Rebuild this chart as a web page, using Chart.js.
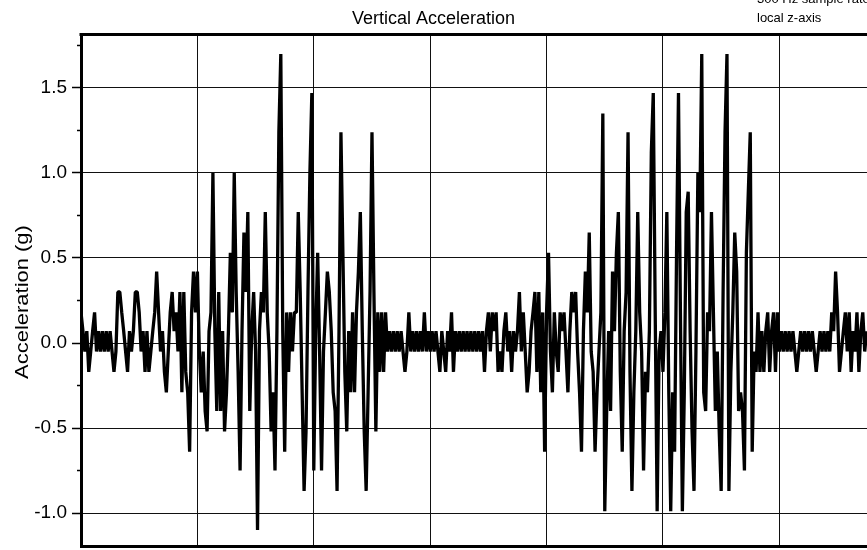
<!DOCTYPE html>
<html><head><meta charset="utf-8">
<script src="https://cdn.jsdelivr.net/npm/chart.js@4"></script>
<style>html,body{margin:0;padding:0;background:#fff;}#wrap{width:867px;height:550px;}</style>
</head><body><div id="wrap"><canvas id="c" width="867" height="550"></canvas></div>
<script>
const chartTitle = 'Vertical Acceleration';
const yAxisTitle = 'Acceleration (g)';
const noteLines = ['300 Hz sample rate', 'local z-axis'];
const sampleStep = 1 / 60; // seconds between plotted samples
const accel = [
  0.18, 0.07, -0.05, 0.07, -0.17, -0.05, 0.07, 0.18, -0.05, 0.07,
  -0.05, 0.07, -0.05, 0.07, -0.05, 0.07, -0.05, -0.17, -0.05, 0.30,
  0.30, 0.18, 0.07, -0.05, -0.17, 0.07, -0.05, 0.07, 0.30, 0.30,
  0.18, -0.05, 0.07, -0.17, 0.07, -0.17, -0.05, 0.07, 0.18, 0.42,
  0.18, -0.05, 0.07, -0.17, -0.29, -0.05, 0.18, 0.30, 0.07, 0.18,
  -0.05, 0.30, -0.29, 0.30, -0.17, -0.29, -0.64, 0.18, 0.42, 0.18,
  0.42, -0.05, -0.29, -0.05, -0.40, -0.52, 0.07, 0.18, 1.00, 0.07,
  -0.40, 0.30, -0.40, 0.07, -0.52, -0.29, 0.07, 0.53, 0.18, 1.00,
  0.30, -0.17, -0.75, 0.07, 0.65, 0.30, 0.77, -0.40, 0.07, 0.30,
  -0.05, -1.10, 0.07, 0.30, 0.18, 0.77, 0.18, -0.05, -0.52, -0.29,
  -0.75, 0.07, 1.24, 1.70, 0.07, -0.64, 0.18, -0.17, 0.18, -0.05,
  0.18, 0.18, 0.77, 0.30, -0.29, -0.87, -0.52, 0.30, 1.00, 1.47,
  -0.75, 0.07, 0.53, -0.05, -0.75, -0.05, 0.18, 0.42, 0.30, 0.07,
  -0.29, -0.40, -0.87, 0.07, 1.24, 0.53, -0.17, -0.52, 0.07, -0.29,
  0.18, -0.29, 0.18, 0.42, 0.77, 0.07, -0.52, -0.87, -0.29, 0.30,
  1.24, 0.30, -0.52, 0.18, -0.17, 0.18, -0.17, 0.18, -0.05, 0.07,
  -0.05, 0.07, -0.05, 0.07, -0.05, 0.07, -0.05, -0.17, -0.05, 0.18,
  -0.05, 0.07, -0.05, 0.07, -0.05, 0.07, -0.05, 0.18, -0.05, 0.07,
  -0.05, 0.07, -0.05, 0.07, -0.05, -0.17, 0.07, -0.05, -0.17, 0.07,
  -0.05, 0.18, -0.17, 0.07, -0.05, 0.07, -0.05, 0.07, -0.05, 0.07,
  -0.05, 0.07, -0.05, 0.07, -0.05, 0.07, -0.05, 0.07, -0.17, 0.07,
  0.18, -0.05, 0.18, 0.07, 0.18, -0.17, -0.05, -0.17, 0.07, 0.18,
  -0.05, 0.07, -0.17, 0.07, -0.05, 0.07, 0.30, -0.05, 0.18, -0.05,
  -0.29, -0.17, 0.07, 0.18, 0.30, -0.17, 0.30, -0.29, 0.18, -0.64,
  0.18, 0.53, -0.05, -0.29, 0.18, -0.05, -0.17, 0.18, 0.07, 0.18,
  -0.05, -0.29, 0.07, 0.30, 0.18, 0.30, -0.05, -0.29, -0.64, 0.07,
  0.42, 0.18, 0.65, -0.05, -0.17, -0.64, -0.29, -0.05, 0.18, 1.35,
  -0.99, -0.40, 0.07, -0.40, 0.42, 0.07, 0.53, 0.77, -0.17, -0.64,
  0.07, 0.30, 1.24, -0.17, -0.87, -0.29, 0.07, 0.77, 0.18, -0.05,
  -0.75, -0.17, -0.29, 0.07, 1.12, 1.47, 0.18, -0.99, -0.05, 0.07,
  -0.17, 0.18, 0.77, -0.29, -0.99, -0.29, -0.64, 0.53, 1.47, 0.18,
  -0.99, -0.29, 0.77, 0.89, 0.07, -0.52, -0.87, -0.05, 1.00, 0.77,
  1.70, -0.29, -0.40, 0.18, 0.07, 0.77, 0.18, -0.40, -0.05, -0.52,
  -0.87, 0.30, 1.24, 1.70, -0.87, -0.17, 0.18, 0.65, 0.42, -0.40,
  -0.29, -0.40, -0.75, 0.53, 0.89, 1.24, -0.64, -0.05, -0.17, 0.18,
  -0.17, 0.07, -0.17, 0.07, 0.18, -0.17, 0.07, 0.18, -0.17, 0.18,
  -0.05, 0.07, -0.05, 0.07, -0.05, 0.07, -0.05, 0.07, -0.05, -0.17,
  -0.05, 0.07, -0.05, 0.07, -0.05, 0.07, -0.05, 0.07, -0.05, -0.17,
  -0.05, 0.07, -0.05, 0.07, -0.05, 0.07, -0.05, 0.18, 0.07, 0.42,
  0.18, -0.17, -0.05, 0.07, 0.18, -0.05, 0.18, -0.17, 0.07, -0.05,
  0.18, -0.17, 0.07, 0.18, -0.05, 0.07
];
const yTickValues = [-1.0, -0.5, 0.0, 0.5, 1.0, 1.5];
const yMinorTicks = [-0.75, -0.25, 0.25, 0.75, 1.25, 1.75];
const xGridValues = [0, 1, 2, 3, 4, 5, 6];
const yRange = [-1.194, 1.814];
const xRange = [0, 6.753];

const FONT = '"Liberation Sans", Arial, Helvetica, sans-serif';
const points = accel.map((v, i) => ({ x: i * sampleStep, y: v }));

const framePlugin = {
  id: 'frame',
  afterDraw(chart) {
    const { ctx, chartArea: a, scales } = chart;
    ctx.save();
    ctx.strokeStyle = '#000';
    ctx.lineWidth = 3;
    ctx.beginPath();
    ctx.moveTo(a.left - 1.5, a.top);
    ctx.lineTo(a.right, a.top);
    ctx.stroke();
    ctx.lineWidth = 1.5;
    yMinorTicks.forEach(v => {
      const y = scales.y.getPixelForValue(v);
      if (y > a.top + 2 && y < a.bottom - 2) {
        ctx.beginPath();
        ctx.moveTo(a.left - 4, y);
        ctx.lineTo(a.left, y);
        ctx.stroke();
      }
    });
    ctx.fillStyle = '#000';
    ctx.translate(23.5, 302);
    ctx.rotate(-Math.PI / 2);
    ctx.scale(1.22, 1);
    ctx.font = '18px ' + FONT;
    ctx.textAlign = 'center';
    ctx.textBaseline = 'middle';
    ctx.fillText(yAxisTitle, 0, 0);
    ctx.restore();
    ctx.save();
    ctx.fillStyle = '#000';
    ctx.font = '13px ' + FONT;
    ctx.textAlign = 'left';
    ctx.textBaseline = 'alphabetic';
    ctx.fillText(noteLines[0], 757, 3);
    ctx.fillText(noteLines[1], 757, 22);
    ctx.restore();
  }
};

new Chart(document.getElementById('c'), {
  type: 'line',
  data: {
    datasets: [{
      data: points,
      borderColor: '#000',
      borderWidth: 3.3,
      pointRadius: 0,
      tension: 0,
      borderJoinStyle: 'bevel',
      fill: false
    }]
  },
  options: {
    responsive: false,
    animation: false,
    devicePixelRatio: 1,
    layout: { padding: 0 },
    plugins: {
      legend: { display: false },
      tooltip: { enabled: false },
      title: {
        display: true,
        text: chartTitle,
        color: '#000',
        font: { family: FONT, size: 18, weight: 'normal', lineHeight: 1.2 },
        padding: { top: 8, bottom: 5 }
      }
    },
    scales: {
      x: {
        type: 'linear',
        min: xRange[0],
        max: xRange[1],
        afterBuildTicks: s => { s.ticks = xGridValues.map(v => ({ value: v })); },
        ticks: { display: false },
        grid: { color: '#111', lineWidth: 1, drawTicks: false },
        border: { display: true, color: '#000', width: 3 },
        afterFit: s => { s.height = 4; s.paddingLeft = 0; s.paddingRight = 0; }
      },
      y: {
        type: 'linear',
        min: yRange[0],
        max: yRange[1],
        afterBuildTicks: s => { s.ticks = yTickValues.map(v => ({ value: v })); },
        ticks: {
          color: '#000',
          font: { family: FONT, size: 19 },
          padding: 5,
          callback: v => Number(v).toFixed(1)
        },
        grid: { color: '#111', lineWidth: 1, drawTicks: true, tickLength: 9, tickColor: '#000', tickWidth: 1.5 },
        border: { display: true, color: '#000', width: 3 },
        afterFit: s => { s.width = 81; s.paddingTop = 0; s.paddingBottom = 0; }
      }
    }
  },
  plugins: [framePlugin]
});
</script>
</body></html>
